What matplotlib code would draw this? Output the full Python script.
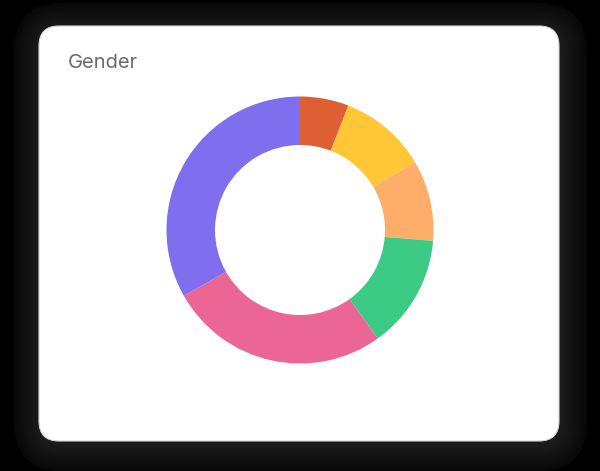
import matplotlib
matplotlib.use("Agg")
import matplotlib.pyplot as plt
from matplotlib.patches import FancyBboxPatch

# ---- data ----
title = "Gender"
categories = ["Group A", "Group B", "Group C", "Group D", "Group E", "Group F"]
values = [5.9, 10.6, 9.8, 13.8, 26.7, 33.2]
colors = ["#DF5F35", "#FFC636", "#FFAE6A", "#3CCB85", "#EC6695", "#7F6FEF"]

W, H = 600, 471
fig = plt.figure(figsize=(W / 100, H / 100), dpi=100)
fig.patch.set_facecolor("black")

# background axes in pixel coordinates (y from top)
bg = fig.add_axes([0, 0, 1, 1])
bg.set_xlim(0, W)
bg.set_ylim(H, 0)
bg.axis("off")

# shadow layers (smooth dark halo)
card_x0, card_y0, card_x1, card_y1 = 39, 26, 559, 441
n_layers = 14
for i in range(n_layers):
    pad = 28 - i * 2
    g = int(8 + i * 1.6)
    c = "#%02x%02x%02x" % (g, g, g)
    bg.add_patch(FancyBboxPatch((card_x0 - pad + 3, card_y0 - pad + 5),
                                (card_x1 - card_x0) + 2 * pad - 3, (card_y1 - card_y0) + 2 * pad - 3,
                                boxstyle="round,pad=0,rounding_size=%d" % (20 + pad),
                                facecolor=c, edgecolor="none"))

# card
bg.add_patch(FancyBboxPatch((card_x0, card_y0), card_x1 - card_x0, card_y1 - card_y0,
                            boxstyle="round,pad=0,rounding_size=20",
                            facecolor="white", edgecolor="#d6d6d6", linewidth=0.8))

bg.text(68, 68, title, fontsize=14.5, color="#6b6b6b", family=["Inter", "DejaVu Sans"],
        ha="left", va="baseline")

# donut
cx, cy, R, r_in = 300, 230, 133.5, 85
half = 140
ax = fig.add_axes([(cx - half) / W, (H - cy - half) / H, 2 * half / W, 2 * half / H])
ax.pie(values, labels=None, colors=colors, startangle=90, counterclock=False,
       radius=R, wedgeprops=dict(width=R - r_in, edgecolor="none", linewidth=0),
       frame=True)
ax.set_aspect("equal")
ax.set_xlim(-half, half)
ax.set_ylim(-half, half)
ax.axis("off")

fig.savefig("out.png", dpi=100, facecolor=fig.get_facecolor())
